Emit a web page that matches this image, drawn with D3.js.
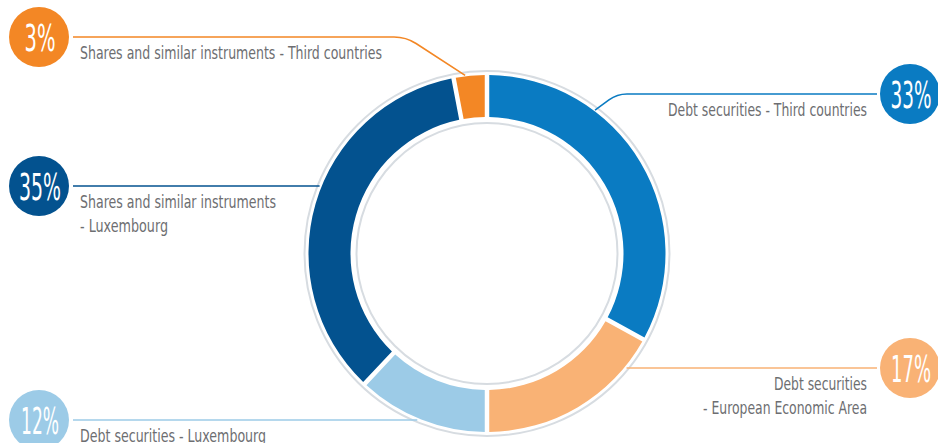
<!DOCTYPE html>
<html>
<head>
<meta charset="utf-8">
<script src="https://cdn.jsdelivr.net/npm/d3@7"></script>
<style>
  html, body { margin: 0; padding: 0; background: #ffffff; }
  svg { display: block; }
  .lbl { font-family: "Liberation Sans Narrow", "DejaVu Sans Condensed", "Roboto", sans-serif; font-stretch: condensed; fill: #6d6e71; }
  .pct { font-family: "Liberation Sans Narrow", "DejaVu Sans Condensed", "Roboto", sans-serif; font-stretch: condensed; fill: #ffffff; }
</style>
</head>
<body>
<svg id="chart" width="938" height="443"></svg>
<script>
// Portfolio breakdown, clockwise from 12 o'clock
const categories = [
  "Debt securities - Third countries",
  "Debt securities - European Economic Area",
  "Debt securities - Luxembourg",
  "Shares and similar instruments - Luxembourg",
  "Shares and similar instruments - Third countries"
];
const shares = [33, 17, 12, 35, 3];
const labelLines = [
  ["Debt securities - Third countries"],
  ["Debt securities", "- European Economic Area"],
  ["Debt securities - Luxembourg"],
  ["Shares and similar instruments", "- Luxembourg"],
  ["Shares and similar instruments - Third countries"]
];
const colors = ["#0a7bc2", "#f9b275", "#9ccbe7", "#03528f", "#f38725"];

// Layout of the call-outs (bubble side, line height, optional bent leader)
const callouts = [
  { side: "right", y: 94,  bend: { cornerX: 617, angle: 37, fillet: 10 }, widths: [199] },
  { side: "right", y: 368, bend: null, widths: [93, 164] },
  { side: "left",  y: 420, bend: null, widths: [186] },
  { side: "left",  y: 186, bend: null, widths: [196, 88] },
  { side: "left",  y: 37,  bend: { cornerX: 406, angle: 353, fillet: 12 }, widths: [302] }
];
const pctWidths = [41, 40, 38, 42, 31];

const svg = d3.select("#chart");
const cx = 487, cy = 253.5;
const rOuter = 178.5, rInner = 136.5;
const bubbleR = 30, bubbleLeftX = 39, bubbleRightX = 910;
const textLeftX = 80, textRightX = 867;

const pie = d3.pie().sort(null).value(d => d).startAngle(0).endAngle(2 * Math.PI);
const arcs = pie(shares);
const arc = d3.arc().innerRadius(rInner).outerRadius(rOuter).padRadius(157).padAngle(4.5 / 157);

const g = svg.append("g").attr("transform", `translate(${cx},${cy})`);

// thin guide rings around the donut
g.append("circle").attr("r", 182.5).attr("fill", "none").attr("stroke", "#d7dce1").attr("stroke-width", 2);
g.append("circle").attr("r", 130.5).attr("fill", "none").attr("stroke", "#d7dce1").attr("stroke-width", 2);

// leader lines
const leaders = svg.append("g").attr("fill", "none").attr("stroke-width", 1.6);
callouts.forEach((c, i) => {
  const dir = c.side === "left" ? 1 : -1;
  const startX = c.side === "left" ? bubbleLeftX + bubbleR + 4 : bubbleRightX - bubbleR - 3;
  let d;
  if (c.bend) {
    const a = c.bend.angle * Math.PI / 180;
    const ex = cx + (rOuter + 1) * Math.sin(a);
    const ey = cy - (rOuter + 1) * Math.cos(a);
    const vx = ex - c.bend.cornerX, vy = ey - c.y;
    const len = Math.hypot(vx, vy);
    const f = c.bend.fillet;
    const p1x = c.bend.cornerX - dir * f;
    const p2x = c.bend.cornerX + vx / len * f, p2y = c.y + vy / len * f;
    d = `M${startX},${c.y} L${p1x},${c.y} Q${c.bend.cornerX},${c.y} ${p2x},${p2y} L${ex},${ey}`;
  } else {
    const dy = c.y - cy;
    const dx = Math.sqrt(Math.max(0, (rOuter + 2) ** 2 - dy * dy));
    const ex = cx - dir * dx;
    d = `M${startX},${c.y} L${ex},${c.y}`;
  }
  leaders.append("path").attr("d", d).attr("stroke", colors[i]);
});

// donut segments
g.selectAll("path.seg").data(arcs).join("path")
  .attr("class", "seg")
  .attr("d", arc)
  .attr("fill", (d, i) => colors[i])
  .append("title").text((d, i) => `${categories[i]}: ${shares[i]}%`);

// bubbles with percentages and category text
callouts.forEach((c, i) => {
  const bx = c.side === "left" ? bubbleLeftX : bubbleRightX;
  svg.append("circle").attr("cx", bx).attr("cy", c.y).attr("r", bubbleR).attr("fill", colors[i]);
  svg.append("text").attr("class", "pct")
    .attr("x", bx + 1 - pctWidths[i] / 2).attr("y", c.y + 14)
    .attr("font-size", 38)
    .attr("textLength", pctWidths[i]).attr("lengthAdjust", "spacingAndGlyphs")
    .text(`${shares[i]}%`);

  labelLines[i].forEach((line, k) => {
    const w = c.widths[k];
    const x = c.side === "left" ? textLeftX : textRightX - w;
    svg.append("text").attr("class", "lbl")
      .attr("x", x).attr("y", c.y + 22 + k * 24)
      .attr("font-size", 18)
      .attr("textLength", w).attr("lengthAdjust", "spacingAndGlyphs")
      .text(line);
  });
});
</script>
</body>
</html>
